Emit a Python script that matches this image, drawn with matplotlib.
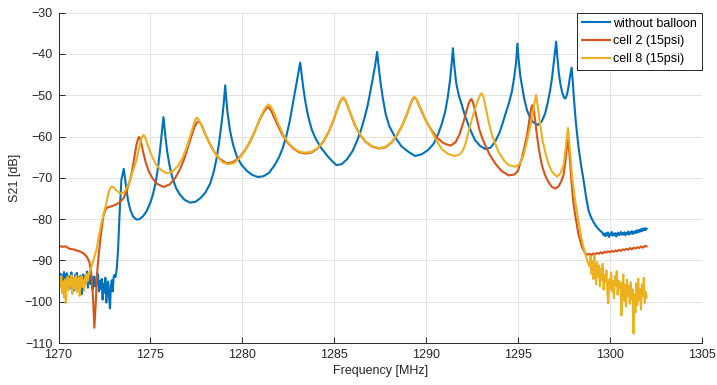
import numpy as np
import matplotlib
matplotlib.use("Agg")
import matplotlib.pyplot as plt

plt.rcParams['font.family'] = ['Liberation Sans', 'DejaVu Sans']

# ---------------- data (frequency in MHz, S21 in dB) ----------------
# without balloon
blue_noise_lo = [-92.0, -94.5, -93.2, -95.8, -93.6, -94.9, -92.8, -96.1, -94.0, -93.1,
                 -95.5, -93.8, -96.8, -94.2, -92.9, -95.1, -94.6, -97.2, -93.5, -94.8,
                 -93.0, -95.9, -94.3, -96.5, -93.7, -98.2, -94.9, -93.4, -96.0, -94.1,
                 -95.3, -92.7, -96.6, -94.4, -93.6, -95.7, -94.0, -97.0, -95.2, -93.9,
                 -96.3, -94.7, -95.8, -93.3, -97.5, -95.0, -96.9, -94.5, -99.5, -95.6,
                 -97.8, -94.2, -100.2, -96.4, -95.1, -98.8, -101.6, -96.2, -94.8, -97.5,
                 -94.0, -93.5, -94.0]
blue_noise_lo_span = (1270.0, 1273.10)
blue_freq = [1273.17, 1273.24, 1273.32, 1273.42, 1273.55, 1273.6, 1273.66, 1273.78, 1273.9,
             1274.05, 1274.24, 1274.4, 1274.6, 1274.8, 1275.0, 1275.15, 1275.3, 1275.42,
             1275.52, 1275.6, 1275.66, 1275.71, 1275.76, 1275.83, 1275.92, 1276.05, 1276.2,
             1276.4, 1276.6, 1276.85, 1277.16, 1277.45, 1277.75, 1278.0, 1278.25, 1278.45,
             1278.6, 1278.72, 1278.83, 1278.92, 1279.0, 1279.07, 1279.13, 1279.2, 1279.33,
             1279.5, 1279.7, 1279.95, 1280.25, 1280.55, 1280.85, 1281.15, 1281.45, 1281.75,
             1282.0, 1282.2, 1282.4, 1282.58, 1282.72, 1282.85, 1282.97, 1283.07, 1283.15,
             1283.23, 1283.32, 1283.43, 1283.58, 1283.78, 1284.0, 1284.3, 1284.65, 1284.9,
             1285.12, 1285.4, 1285.7, 1286.0, 1286.25, 1286.45, 1286.65, 1286.82, 1286.97,
             1287.1, 1287.22, 1287.34, 1287.42, 1287.52, 1287.64, 1287.8, 1288.0, 1288.3,
             1288.65, 1289.04, 1289.4, 1289.75, 1290.1, 1290.4, 1290.65, 1290.85, 1291.04,
             1291.18, 1291.3, 1291.39, 1291.46, 1291.54, 1291.64, 1291.78, 1291.95, 1292.12,
             1292.31, 1292.5, 1292.67, 1292.95, 1293.22, 1293.5, 1293.75, 1294.0, 1294.15,
             1294.3, 1294.5, 1294.67, 1294.8, 1294.9, 1294.97, 1295.04, 1295.12, 1295.21,
             1295.35, 1295.49, 1295.65, 1295.8, 1296.08, 1296.3, 1296.48, 1296.62, 1296.75,
             1296.85, 1296.94, 1297.02, 1297.08, 1297.14, 1297.22, 1297.3, 1297.4, 1297.5,
             1297.57, 1297.66, 1297.75, 1297.84, 1297.92, 1297.98, 1298.05, 1298.15, 1298.28,
             1298.42, 1298.57, 1298.72, 1298.84, 1298.98, 1299.1, 1299.25, 1299.4, 1299.52]
blue_db = [-92.0, -87.5, -79.0, -70.5, -67.8, -69.5, -71.5, -75.4, -77.6,
           -79.3, -80.1, -80.0, -79.3, -78.0, -76.0, -73.8, -70.8, -67.3,
           -63.5, -60.0, -57.5, -55.3, -57.5, -60.5, -63.8, -67.2, -70.0,
           -72.5, -74.0, -75.3, -76.0, -75.8, -74.8, -73.5, -71.4, -68.5,
           -65.3, -62.0, -58.3, -55.0, -51.5, -47.6, -51.0, -54.3, -58.5,
           -62.0, -64.8, -66.8, -68.3, -69.3, -69.8, -69.6, -68.8, -67.0,
           -65.0, -62.8, -59.8, -56.3, -52.8, -49.5, -46.5, -44.0, -42.1,
           -45.0, -48.2, -51.5, -55.0, -58.3, -60.6, -62.8, -64.8, -66.0,
           -66.9, -66.7, -65.5, -63.5, -61.0, -58.5, -55.5, -52.5, -49.0,
           -46.0, -43.0, -39.5, -43.0, -46.8, -50.5, -54.5, -57.5, -60.0,
           -62.3, -63.7, -64.7, -64.3, -63.3, -61.8, -59.5, -57.0, -54.0,
           -50.5, -46.5, -42.5, -38.6, -43.0, -47.0, -50.0, -52.4, -55.0,
           -57.2, -59.3, -60.9, -62.3, -63.0, -62.7, -61.3, -59.0, -57.0,
           -54.8, -52.0, -49.1, -45.5, -42.0, -37.5, -41.5, -45.0, -47.5,
           -51.0, -53.6, -55.3, -56.4, -57.2, -56.3, -54.4, -51.8, -48.8,
           -45.9, -42.5, -39.5, -37.0, -40.5, -44.5, -47.0, -49.2, -50.5,
           -50.8, -50.0, -48.0, -45.3, -43.3, -46.5, -51.0, -56.5, -62.0,
           -66.5, -70.6, -75.0, -77.9, -79.6, -80.6, -81.7, -82.5, -83.0]
blue_noise_hi = [-83.3, -83.8, -83.5, -84.1, -83.4, -83.9, -83.2, -84.3, -83.6, -83.8,
                 -83.1, -84.0, -83.5, -83.9, -83.4, -84.2, -83.6, -83.3, -83.9, -83.5,
                 -83.1, -83.8, -83.4, -83.7, -83.2, -83.9, -83.3, -83.6, -83.0, -83.7,
                 -83.2, -83.5, -82.9, -83.6, -83.1, -83.4, -82.8, -83.3, -82.7, -83.2,
                 -82.6, -83.0, -82.4, -82.9, -82.3, -82.7, -82.2, -82.6, -82.3]
blue_noise_hi_span = (1299.6, 1302.0)

# cell 2 (15psi)
red_freq = [1270.0, 1270.2, 1270.4, 1270.6, 1270.8, 1271.0, 1271.2, 1271.4, 1271.55,
            1271.68, 1271.78, 1271.88, 1271.95, 1272.02, 1272.1, 1272.2, 1272.3, 1272.45,
            1272.6, 1272.8, 1273.0, 1273.2, 1273.4, 1273.55, 1273.7, 1273.8, 1273.89,
            1273.98, 1274.07, 1274.16, 1274.24, 1274.31, 1274.38, 1274.45, 1274.53, 1274.62,
            1274.75, 1274.9, 1275.1, 1275.35, 1275.71, 1276.05, 1276.35, 1276.6, 1276.85,
            1277.05, 1277.25, 1277.42, 1277.55, 1277.63, 1277.72, 1277.85, 1278.0, 1278.2,
            1278.45, 1278.75, 1279.15, 1279.5, 1279.85, 1280.15, 1280.45, 1280.7, 1280.95,
            1281.15, 1281.32, 1281.42, 1281.55, 1281.7, 1281.9, 1282.15, 1282.45, 1282.8,
            1283.1, 1283.42, 1283.75, 1284.1, 1284.4, 1284.7, 1284.95, 1285.15, 1285.32,
            1285.43, 1285.5, 1285.6, 1285.75, 1285.95, 1286.14, 1286.4, 1286.69, 1287.05,
            1287.43, 1287.8, 1288.15, 1288.45, 1288.68, 1288.88, 1289.04, 1289.2, 1289.3,
            1289.37, 1289.47, 1289.6, 1289.77, 1290.0, 1290.3, 1290.6, 1290.95, 1291.33,
            1291.6, 1291.82, 1292.04, 1292.2, 1292.33, 1292.42, 1292.47, 1292.55, 1292.65,
            1292.76, 1292.9, 1293.05, 1293.22, 1293.45, 1293.76, 1294.1, 1294.49, 1294.8,
            1295.0, 1295.21, 1295.38, 1295.5, 1295.58, 1295.66, 1295.74, 1295.79, 1295.86,
            1295.94, 1296.03, 1296.15, 1296.3, 1296.48, 1296.66, 1296.85, 1297.03, 1297.2,
            1297.35, 1297.48, 1297.57, 1297.64, 1297.72, 1297.78, 1297.85, 1297.93, 1298.03,
            1298.15, 1298.3, 1298.48, 1298.65]
red_db = [-86.4, -86.7, -86.6, -87.2, -87.3, -87.6, -87.9, -88.4, -89.2,
          -90.4, -93.0, -99.0, -106.3, -101.0, -93.0, -88.0, -84.0, -79.0,
          -77.3, -77.0, -76.7, -76.3, -75.6, -74.8, -73.3, -71.9, -70.6,
          -68.8, -66.6, -64.1, -62.0, -60.8, -60.1, -60.6, -62.2, -64.0,
          -66.3, -68.3, -70.0, -71.4, -72.2, -71.6, -70.0, -68.0, -65.3,
          -62.5, -59.6, -57.5, -56.5, -56.3, -56.7, -57.9, -59.6, -61.5,
          -63.5, -65.3, -66.5, -66.2, -65.0, -63.3, -61.0, -58.5, -55.9,
          -54.2, -53.1, -52.9, -53.6, -55.0, -57.0, -59.3, -61.4, -63.0,
          -63.8, -64.1, -63.9, -62.9, -61.3, -58.9, -56.2, -53.6, -51.6,
          -50.8, -50.6, -51.2, -52.8, -55.2, -57.4, -59.5, -61.2, -62.4,
          -62.9, -62.6, -61.3, -59.4, -57.5, -55.5, -53.6, -51.6, -50.7,
          -50.5, -51.0, -52.3, -54.0, -56.2, -58.5, -60.3, -61.6, -62.2,
          -61.4, -59.5, -56.4, -53.8, -51.9, -51.1, -50.9, -51.7, -53.4,
          -55.6, -58.3, -60.3, -62.1, -64.3, -66.5, -68.3, -69.4, -69.2,
          -68.3, -65.3, -62.0, -59.5, -57.2, -54.7, -52.9, -52.4, -53.5,
          -56.2, -59.6, -63.3, -66.9, -69.4, -71.0, -72.2, -72.6, -72.1,
          -70.9, -69.3, -66.5, -63.5, -60.8, -63.0, -67.0, -72.0, -76.5,
          -80.0, -83.8, -86.7, -88.2]
red_tail = [-88.6, -88.4, -88.7, -88.3, -88.5, -88.2, -88.4, -88.0, -88.3, -87.9,
            -88.1, -87.8, -88.0, -87.7, -87.9, -87.6, -87.8, -87.4, -87.7, -87.3,
            -87.5, -87.2, -87.4, -87.0, -87.3, -86.9, -87.1, -86.8, -87.0, -86.6,
            -86.9, -86.5, -86.6]
red_tail_span = (1298.8, 1302.0)

# cell 8 (15psi)
yellow_noise_lo = [-97.0, -94.2, -96.5, -93.8, -97.9, -95.1, -99.0, -94.6, -100.3, -95.8,
                   -93.9, -97.2, -94.5, -96.3, -93.6, -98.1, -95.0, -94.2, -96.9, -93.7,
                   -97.6, -95.4, -94.1, -98.6, -95.9, -93.8, -96.4, -94.8, -97.3, -94.0,
                   -95.6, -93.3, -94.9, -93.0]
yellow_noise_lo_span = (1270.0, 1271.65)
yellow_freq = [1271.72, 1271.9, 1272.08, 1272.2, 1272.35, 1272.5, 1272.62, 1272.72, 1272.82,
               1272.9, 1273.0, 1273.15, 1273.35, 1273.5, 1273.65, 1273.8, 1273.95, 1274.1,
               1274.26, 1274.38, 1274.48, 1274.56, 1274.62, 1274.7, 1274.8, 1274.92, 1275.1,
               1275.3, 1275.55, 1275.89, 1276.2, 1276.5, 1276.75, 1277.0, 1277.2, 1277.35,
               1277.45, 1277.52, 1277.6, 1277.72, 1277.88, 1278.1, 1278.35, 1278.65, 1278.95,
               1279.24, 1279.55, 1279.85, 1280.15, 1280.45, 1280.7, 1280.95, 1281.15, 1281.32,
               1281.45, 1281.58, 1281.75, 1281.95, 1282.2, 1282.5, 1282.85, 1283.15, 1283.42,
               1283.75, 1284.1, 1284.4, 1284.7, 1284.95, 1285.15, 1285.32, 1285.43, 1285.5,
               1285.6, 1285.75, 1285.95, 1286.14, 1286.4, 1286.69, 1287.05, 1287.43, 1287.8,
               1288.15, 1288.45, 1288.68, 1288.88, 1289.04, 1289.2, 1289.3, 1289.37, 1289.47,
               1289.6, 1289.77, 1290.0, 1290.32, 1290.6, 1290.85, 1291.2, 1291.55, 1291.8,
               1292.0, 1292.15, 1292.31, 1292.5, 1292.67, 1292.82, 1292.95, 1293.03, 1293.12,
               1293.25, 1293.4, 1293.6, 1293.94, 1294.25, 1294.49, 1294.85, 1295.1, 1295.3,
               1295.45, 1295.6, 1295.7, 1295.8, 1295.9, 1295.99, 1296.08, 1296.21, 1296.35,
               1296.48, 1296.65, 1296.85, 1297.12, 1297.3, 1297.48, 1297.58, 1297.65, 1297.72,
               1297.78, 1297.86, 1297.95, 1298.08, 1298.2, 1298.33, 1298.45, 1298.55, 1298.66,
               1298.78, 1298.9]
yellow_db = [-92.5, -90.0, -87.1, -84.0, -80.7, -78.0, -75.8, -73.6, -72.4,
             -72.1, -72.3, -73.0, -73.8, -73.7, -72.9, -71.6, -69.6, -67.6,
             -65.5, -62.8, -60.8, -59.9, -59.6, -60.1, -61.3, -62.9, -64.9,
             -66.7, -68.0, -68.9, -68.5, -67.1, -65.2, -62.3, -59.3, -57.2,
             -55.9, -55.4, -55.7, -56.7, -58.3, -60.5, -62.8, -64.9, -66.3,
             -66.7, -66.4, -65.2, -63.4, -61.1, -58.6, -55.7, -53.8, -52.6,
             -52.2, -52.9, -54.5, -56.8, -59.3, -61.5, -63.0, -63.7, -63.9,
             -63.7, -62.8, -61.2, -58.8, -56.1, -53.5, -51.5, -50.7, -50.5,
             -51.1, -52.7, -55.1, -57.3, -59.4, -61.1, -62.3, -62.8, -62.5,
             -61.2, -59.3, -57.4, -55.4, -53.5, -51.5, -50.6, -50.4, -50.9,
             -52.1, -53.8, -56.2, -58.9, -61.2, -63.0, -64.2, -64.7, -64.4,
             -63.4, -61.7, -58.8, -55.7, -53.2, -51.2, -49.9, -49.5, -50.3,
             -53.0, -56.4, -59.8, -63.7, -65.8, -66.9, -67.3, -66.6, -64.6,
             -61.9, -58.9, -56.8, -54.4, -51.8, -49.9, -52.8, -57.2, -61.2,
             -63.7, -66.5, -68.5, -69.7, -69.0, -66.9, -63.5, -60.5, -57.9,
             -60.5, -65.0, -70.0, -74.5, -78.0, -81.5, -84.5, -86.5, -88.3,
             -90.3, -91.5]
yellow_noise_hi = [-89.0, -93.2, -90.1, -94.5, -88.7, -92.6, -95.8, -90.4, -93.9, -91.2,
                   -96.3, -92.0, -94.8, -90.8, -97.1, -93.5, -95.2, -92.4, -98.0, -100.4,
                   -94.6, -96.8, -92.9, -97.5, -95.0, -99.2, -93.8, -96.1, -92.6, -98.3,
                   -94.9, -96.7, -95.4, -103.3, -97.9, -93.4, -99.8, -96.0, -101.2, -94.7,
                   -98.6, -96.2, -100.5, -95.3, -99.4, -97.0, -107.7, -98.2, -102.6, -95.6,
                   -100.8, -94.4, -99.6, -96.9, -101.9, -95.8, -98.7, -94.2, -100.3, -97.6,
                   -99.0]
yellow_noise_hi_span = (1298.95, 1302.0)

series_labels = ["without balloon", "cell 2 (15psi)", "cell 8 (15psi)"]
series_colors = ["#0072BD", "#D95319", "#EDB120"]


def sweep(span, values):
    """Frequency points of a uniformly stepped sweep segment."""
    return np.linspace(span[0], span[1], len(values))


blue_x = np.concatenate([sweep(blue_noise_lo_span, blue_noise_lo), blue_freq,
                         sweep(blue_noise_hi_span, blue_noise_hi)])
blue_y = np.concatenate([blue_noise_lo, blue_db, blue_noise_hi])
red_x = np.concatenate([red_freq, sweep(red_tail_span, red_tail)])
red_y = np.concatenate([red_db, red_tail])
yel_x = np.concatenate([sweep(yellow_noise_lo_span, yellow_noise_lo), yellow_freq,
                        sweep(yellow_noise_hi_span, yellow_noise_hi)])
yel_y = np.concatenate([yellow_noise_lo, yellow_db, yellow_noise_hi])

# ---------------- figure ----------------
fig = plt.figure(figsize=(7.17, 3.85), dpi=100)
ax = fig.add_axes([0.0816, 0.109, 0.8971, 0.858])

text_c = "#262626"
for x, y, c, lab in zip([blue_x, red_x, yel_x], [blue_y, red_y, yel_y],
                        series_colors, series_labels):
    ax.plot(x, y, color=c, lw=1.5, label=lab, solid_joinstyle='round')

ax.set_xlim(1270, 1305)
ax.set_ylim(-110, -30)
ax.set_xticks(np.arange(1270, 1306, 5))
ax.set_yticks(np.arange(-110, -29, 10))
ax.grid(True, color="#E3E3E3", lw=0.7)
ax.set_axisbelow(True)
for s in ["top", "right"]:
    ax.spines[s].set_visible(False)
for s in ["left", "bottom"]:
    ax.spines[s].set_color(text_c)
    ax.spines[s].set_linewidth(0.7)
ax.tick_params(direction="in", length=4, width=0.7, colors=text_c,
               labelsize=9, pad=4)
ax.set_xlabel("Frequency [MHz]", fontsize=9, color=text_c, labelpad=3)
ax.set_ylabel("S21 [dB]", fontsize=9, color=text_c, labelpad=3)

leg = ax.legend(loc="upper right", borderaxespad=0, fancybox=False,
                framealpha=1, edgecolor=text_c, fontsize=9,
                handlelength=2.2, handletextpad=0.25, labelspacing=0.45,
                borderpad=0.4)
leg.get_frame().set_linewidth(0.7)

fig.savefig("out.png", dpi=100)
